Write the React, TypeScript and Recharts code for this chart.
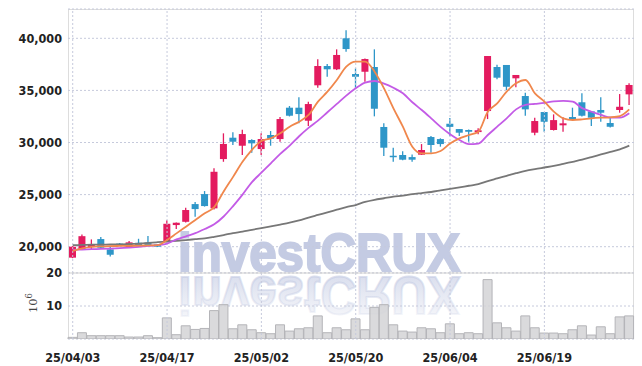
import { ComposedChart, Bar, Line, XAxis, YAxis, CartesianGrid, ReferenceLine } from "recharts";

// trading days (yy/mm/dd)
const DATES = [
  "25/04/03", "25/04/04", "25/04/07", "25/04/08", "25/04/09", "25/04/10", "25/04/11", "25/04/14", "25/04/15", "25/04/16",
  "25/04/17", "25/04/18", "25/04/21", "25/04/22", "25/04/23", "25/04/24", "25/04/25", "25/04/28", "25/04/29", "25/04/30",
  "25/05/02", "25/05/07", "25/05/08", "25/05/09", "25/05/12", "25/05/13", "25/05/14", "25/05/15", "25/05/16", "25/05/19",
  "25/05/20", "25/05/21", "25/05/22", "25/05/23", "25/05/26", "25/05/27", "25/05/28", "25/05/29", "25/05/30", "25/06/02",
  "25/06/04", "25/06/05", "25/06/09", "25/06/10", "25/06/11", "25/06/12", "25/06/13", "25/06/16", "25/06/17", "25/06/18",
  "25/06/19", "25/06/20", "25/06/23", "25/06/24", "25/06/25", "25/06/26", "25/06/27", "25/06/30", "25/07/01", "25/07/02",
];

const OPEN = [
  18950, 19730, 19965, 20733, 19743, 20300, 19936, 20378, 20400, 20222,
  20480, 22077, 22390, 24090, 25050, 23680, 28410, 30460, 29690, 30240,
  29370, 30720, 30330, 33340, 33340, 32090, 35490, 37340, 37025, 40000,
  36570, 36790, 37245, 31490, 28730, 28800, 28600, 28830, 30525, 30330,
  31800, 31290, 31200, 31000, 33020, 37245, 37440, 36160, 34460, 30940,
  32925, 31200, 31650, 32445, 33860, 32990, 33120, 31870, 33120, 34620,
];
const HIGH = [
  20050, 21180, 20700, 20920, 20000, 20350, 20540, 20760, 21020, 20250,
  22530, 22320, 23740, 24285, 25340, 27520, 30880, 30980, 31226, 30300,
  30880, 31100, 32440, 33500, 34340, 33920, 37980, 37530, 38940, 40770,
  37120, 38050, 38940, 31840, 29500, 29150, 28860, 29850, 30620, 30400,
  32350, 31300, 31250, 31360, 38300, 37470, 37440, 36480, 34780, 32380,
  32925, 32700, 32420, 33340, 34720, 32990, 34340, 32400, 34650, 35680,
];
const LOW = [
  18900, 19700, 19740, 19850, 19070, 20100, 19900, 20120, 20100, 19980,
  20420, 21690, 22330, 22870, 23850, 23580, 28150, 29755, 28800, 29020,
  28800, 29690, 30070, 32500, 31840, 31580, 35260, 36310, 36950, 38710,
  35200, 35830, 32510, 28700, 28150, 28300, 28150, 28800, 29020, 29600,
  30600, 30620, 30070, 30780, 32250, 36060, 35040, 35300, 32570, 30690,
  31030, 31150, 31030, 32200, 32500, 31580, 31990, 31450, 32860, 33600,
];
const CLOSE = [
  20000, 21010, 20222, 19900, 19228, 20150, 20416, 20157, 20157, 20000,
  22200, 22300, 23520, 23610, 23900, 27190, 29860, 30075, 30810, 29920,
  30333, 30360, 32250, 32570, 32730, 33690, 37340, 37025, 38400, 38970,
  36310, 38010, 33240, 29500, 28630, 28350, 28350, 29280, 29760, 29850,
  31500, 30940, 31030, 31170, 38300, 36220, 35350, 36480, 33180, 32060,
  31990, 32150, 31840, 32250, 32570, 32380, 32860, 31510, 33430, 35520,
];

// volume, millions of shares
const VOLUME = [
  0.5, 1.9, 1.0, 1.0, 1.0, 1.0, 0.6, 0.6, 1.0, 0.4,
  6.4, 1.3, 4.0, 2.9, 3.2, 8.6, 10.4, 3.1, 4.3, 2.8,
  1.9, 1.6, 4.3, 2.4, 3.1, 3.4, 7.0, 1.9, 3.4, 2.8,
  6.1, 2.8, 9.6, 10.4, 4.3, 2.4, 2.1, 3.4, 3.1, 1.9,
  4.6, 1.6, 1.9, 1.6, 18.0, 4.9, 3.4, 2.4, 7.0, 3.4,
  1.8, 1.8, 1.6, 2.8, 4.0, 1.2, 3.7, 1.6, 6.7, 7.0,
];

const MA5 = [
  19600, 19850, 19980, 20030, 20060, 20070, 20080, 20100, 20120, 20150,
  20650, 21280, 21920, 22560, 23200, 23800, 25300, 26700, 28150, 29300,
  30150, 30400, 30880, 31520, 32000, 32640, 33920, 34880, 36000, 37280,
  37760, 37760, 36800, 35200, 33280, 31520, 29600, 28960, 28960, 29180,
  29900, 30400, 30720, 31040, 32960, 33760, 34880, 35680, 36000, 34720,
  33920, 32960, 32320, 32160, 32220, 32320, 32380, 32420, 32540, 33180,
];
const MA20 = [
  19700, 19730, 19760, 19790, 19820, 19860, 19920, 19990, 20070, 20160,
  20300, 20700, 21000, 21300, 21700, 22150, 22900, 23900, 25000, 26200,
  27100, 28000, 28900, 29700, 30600, 31400, 32100, 32900, 33700, 34500,
  35200, 35750, 35900, 35650, 35250, 34720, 33860, 33120, 32320, 31500,
  30800, 30240, 29850, 29900, 30720, 31520, 32320, 33180, 33600, 33700,
  33800, 33950, 34000, 33920, 33300, 32950, 32650, 32400, 32380, 32800,
];
const MA60 = [
  20150, 20170, 20190, 20200, 20210, 20220, 20260, 20300, 20360, 20430,
  20500, 20570, 20640, 20720, 20800, 20950, 21120, 21300, 21450, 21620,
  21780, 21950, 22120, 22300, 22520, 22800, 23050, 23300, 23550, 23800,
  24000, 24300, 24500, 24650, 24800, 24900, 25050, 25150, 25250, 25400,
  25550, 25700, 25850, 26000, 26300, 26550, 26800, 27050, 27280, 27450,
  27600, 27750, 27950, 28150, 28350, 28600, 28850, 29100, 29350, 29700,
];

const PRICE_TICKS = [20000, 25000, 30000, 35000, 40000];
const VOLUME_TICKS = [10, 20];
const DATE_TICKS = ["25/04/03", "25/04/17", "25/05/02", "25/05/20", "25/06/04", "25/06/19"];

const UP = "#e31b5f";
const DOWN = "#2e96c8";
const GRID = "#c6cadc";
const WM = "#c4cbe3";
const TICK_FONT = "'DejaVu Sans Condensed', 'Liberation Sans Narrow', sans-serif";

const data = DATES.map((date, i) => ({
  date,
  open: OPEN[i],
  high: HIGH[i],
  low: LOW[i],
  close: CLOSE[i],
  volume: VOLUME[i],
  ma5: MA5[i],
  ma20: MA20[i],
  ma60: MA60[i],
}));

const tickStyle = { fill: "#222", fontSize: 12.5, fontWeight: 700, fontFamily: TICK_FONT };

function Candle(props: any) {
  const { x, y, width, height, payload } = props;
  if (x == null || y == null) return null;
  const top = Math.min(y, y + height);
  const bottom = Math.max(y, y + height);
  const { open, close, high, low } = payload;
  const span = high - low || 1;
  const toY = (v: number) => top + ((high - v) / span) * (bottom - top);
  const color = close >= open ? UP : DOWN;
  const cx = x + width / 2;
  const bodyTop = toY(Math.max(open, close));
  const bodyBottom = toY(Math.min(open, close));
  return (
    <g>
      <line x1={cx} x2={cx} y1={top} y2={bottom} stroke={color} strokeWidth={1.3} />
      <rect x={x} y={bodyTop} width={width} height={Math.max(1.5, bodyBottom - bodyTop)} fill={color} />
    </g>
  );
}

function DateTick(props: any) {
  const { x, y, payload } = props;
  return (
    <text x={x} y={y + 15} textAnchor="middle" style={tickStyle as any} fill="#222">
      {payload.value}
    </text>
  );
}

function VolumeUnit(props: any) {
  const vb = props.viewBox || { y: 273, height: 66 };
  const cy = vb.y + vb.height / 2 - 3;
  return (
    <text
      transform={`translate(37,${cy}) rotate(-90)`}
      textAnchor="middle"
      fontFamily="'DejaVu Serif', serif"
      fontSize={11.5}
      fill="#444"
    >
      10
      <tspan dy={-5} fontSize={8.5}>6</tspan>
    </text>
  );
}

function Watermark() {
  const textProps = {
    x: 178,
    y: 271,
    fontFamily: "'Liberation Sans', Arial, sans-serif",
    fontWeight: 700,
    fontSize: 53,
    textLength: 282,
    lengthAdjust: "spacingAndGlyphs",
    strokeWidth: 2,
  };
  return (
    <svg width={642} height={366} style={{ position: "absolute", left: 0, top: 0 }}>
      <defs>
        <linearGradient id="wmFade" gradientUnits="userSpaceOnUse" x1={0} y1={271} x2={0} y2={225}>
          <stop offset="0" stopColor={WM} stopOpacity={0.6} />
          <stop offset="1" stopColor={WM} stopOpacity={0.12} />
        </linearGradient>
      </defs>
      <text {...(textProps as any)} fill={WM} stroke={WM}>
        investCRUX
      </text>
      <g transform="translate(0,548) scale(1,-1)">
        <text {...(textProps as any)} fill="url(#wmFade)" stroke="url(#wmFade)">
          investCRUX
        </text>
      </g>
    </svg>
  );
}

export default function App() {
  return (
    <div style={{ position: "absolute", left: 0, top: 0, width: 642, height: 366, background: "#fff" }}>
      <Watermark />
      <div
        style={{
          position: "absolute",
          left: 68,
          top: 9,
          width: 566,
          height: 330,
          border: "1px solid #dddddd",
          boxSizing: "border-box",
        }}
      />
      <div style={{ position: "absolute", left: 0, top: 0 }}>
        <ComposedChart width={642} height={273} data={data} margin={{ top: 9, right: 8, bottom: 0, left: 0 }}>
          <CartesianGrid vertical={false} stroke={GRID} strokeDasharray="2 2" />
          <XAxis dataKey="date" hide />
          <YAxis
            width={68}
            domain={[17476, 42812]}
            ticks={PRICE_TICKS}
            allowDataOverflow
            axisLine={false}
            tickLine={false}
            tickSize={0}
            tickMargin={6}
            tick={tickStyle}
            tickFormatter={(v: number) => v.toLocaleString("en-US")}
          />
          {DATE_TICKS.map((d) => (
            <ReferenceLine key={d} x={d} stroke={GRID} strokeDasharray="2 2" />
          ))}
          <Bar
            dataKey={(d: any) => [d.low, d.high]}
            barSize={7}
            shape={(p: any) => <Candle {...p} />}
            isAnimationActive={false}
          />
          <Line type="monotone" dataKey="ma60" stroke="#777777" strokeWidth={1.8} dot={false} isAnimationActive={false} />
          <Line type="monotone" dataKey="ma20" stroke="#c35be6" strokeWidth={1.8} dot={false} isAnimationActive={false} />
          <Line type="monotone" dataKey="ma5" stroke="#f0874c" strokeWidth={1.8} dot={false} isAnimationActive={false} />
        </ComposedChart>
      </div>
      <div style={{ position: "absolute", left: 0, top: 0 }}>
        <ComposedChart
          width={642}
          height={366}
          data={data}
          margin={{ top: 273, right: 8, bottom: 0, left: 0 }}
          barCategoryGap={0}
        >
          <CartesianGrid vertical={false} stroke={GRID} strokeDasharray="2 2" />
          <XAxis
            dataKey="date"
            height={27}
            ticks={DATE_TICKS}
            interval={0}
            axisLine={false}
            tickLine={false}
            tick={(p: any) => <DateTick {...p} />}
          />
          <YAxis
            width={68}
            domain={[0, 20]}
            ticks={VOLUME_TICKS}
            allowDataOverflow
            axisLine={false}
            tickLine={false}
            tickSize={0}
            tickMargin={6}
            tick={tickStyle}
            label={{ content: (p: any) => <VolumeUnit {...p} /> }}
          />
          {DATE_TICKS.map((d) => (
            <ReferenceLine key={d} x={d} stroke={GRID} strokeDasharray="2 2" />
          ))}
          <ReferenceLine y={20} stroke="#d0d0d0" />
          <Bar dataKey="volume" fill="#d3d3d6" fillOpacity={0.85} stroke="#b4b4b8" strokeWidth={1} isAnimationActive={false} />
        </ComposedChart>
      </div>
    </div>
  );
}
